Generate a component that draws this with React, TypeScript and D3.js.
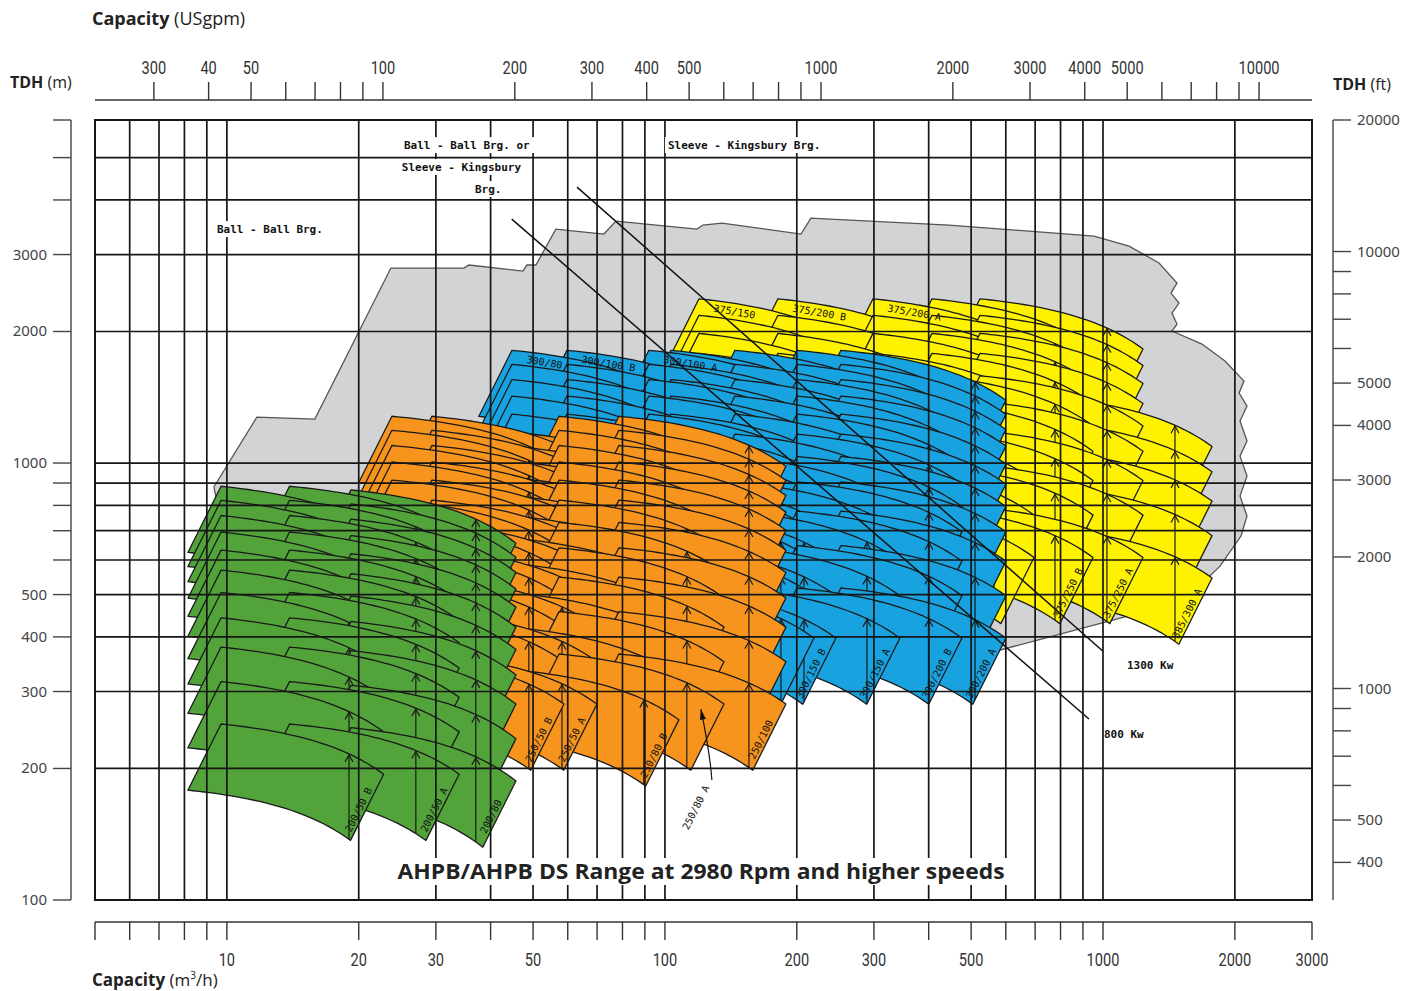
import React, { useEffect, useRef } from 'react';
import * as d3 from 'd3';

type Pump = { name: string; q1: number; q2: number; bep: number; h1: number; h2: number; stages: number[] };

// bottom axis, capacity in m3/h
const capTicks = [5, 6, 7, 8, 9, 10, 20, 30, 40, 50, 60, 70, 80, 90, 100, 200, 300, 400, 500, 600, 700, 800, 900, 1000, 2000, 3000];
const capLabels = [10, 20, 30, 50, 100, 200, 300, 500, 1000, 2000, 3000];
const capGrid = [6, 7, 8, 9, 10, 20, 30, 40, 50, 60, 70, 80, 90, 100, 200, 300, 400, 500, 600, 700, 800, 900, 1000, 2000];

// top axis, capacity in USgpm
const gpmTicks = [30, 40, 50, 60, 70, 80, 90, 100, 200, 300, 400, 500, 600, 700, 800, 900, 1000, 2000, 3000, 4000, 5000, 6000, 7000, 8000, 9000, 10000];
const gpmLabelValues = [30, 40, 50, 100, 200, 300, 400, 500, 1000, 2000, 3000, 4000, 5000, 10000];
const gpmLabelTexts = ['300', '40', '50', '100', '200', '300', '400', '500', '1000', '2000', '3000', '4000', '5000', '10000'];

// left axis, TDH in m
const headTicks = [6096, 5000, 4000, 3000, 2000, 1000, 900, 800, 700, 600, 500, 400, 300, 200, 100];
const headLabels = [3000, 2000, 1000, 500, 400, 300, 200, 100];
const headGrid = [5000, 4000, 3000, 2000, 1000, 900, 800, 700, 600, 500, 400, 300, 200];

// right axis, TDH in ft
const feetTicks = [20000, 10000, 9000, 8000, 7000, 6000, 5000, 4000, 3000, 2000, 1000, 900, 800, 700, 600, 500, 400];
const feetLabels = [20000, 10000, 5000, 4000, 3000, 2000, 1000, 500, 400];

// overall range envelope (grey)
const envQ = [9.34, 11.71, 15.88, 23.68, 34.76, 35.68, 47.4, 48.41, 50.76, 56.37, 72.56, 77.3, 118.3, 122.1, 134.9, 204.4, 215.4, 445.1, 953.9, 1146.7, 1342.6, 1475.4, 1429.6, 1491.2, 1437.2, 1475.4, 1437.2, 1682.6, 1898.9, 2098.4, 2045, 2132, 2055, 2132, 2055, 2132, 2055, 2132, 2065.6, 1849.8, 1530.6, 469, 119.6, 27.44, 10.1];
const envH = [881.5, 1274, 1261, 2794, 2794, 2839, 2750, 2839, 2839, 3431, 3342, 3579, 3431, 3504, 3541, 3342, 3636, 3504, 3306, 3137, 2869, 2582, 2449, 2323, 2204, 2080, 2005, 1872, 1712, 1540, 1446, 1350, 1248, 1123, 1037, 934, 840.4, 756.3, 680.7, 580.9, 483.2, 352.3, 352.3, 391.5, 596.9];

const S14 = [4, 5, 6, 7, 8, 9, 10, 11, 12, 13, 14];
const S12 = [4, 5, 6, 7, 8, 9, 10, 11, 12];
const S8 = [4, 5, 6, 7, 8];
const TRIM = 0.84; // min / max impeller

// q1,q2 = capacity at the corners of the max impeller curve, h1,h2 = head per stage there
const yellowPumps: Pump[] = [
  { name: '375/150', q1: 119.6, q2: 277.3, bep: 231.9, h1: 198, h2: 152, stages: S12 },
  { name: '375/200 B', q1: 181.1, q2: 422.3, bep: 351.3, h1: 198, h2: 152, stages: S12 },
  { name: '375/200 A', q1: 298.5, q2: 695.9, bep: 563.8, h1: 198, h2: 152, stages: S12 },
  { name: '375/250 B', q1: 407.0, q2: 948.9, bep: 777.0, h1: 198, h2: 152, stages: S12 },
  { name: '375/250 A', q1: 523.8, q2: 1234, bep: 1021, h1: 198, h2: 152, stages: S12 },
  { name: '385/300 A', q1: 745.0, q2: 1774, bep: 1460, h1: 177.5, h2: 136.4, stages: S8 },
];
const bluePumps: Pump[] = [
  { name: '300/80', q1: 44.74, q2: 106.5, bep: 88.2, h1: 129.4, h2: 99.4, stages: S14 },
  { name: '300/100 B', q1: 59.75, q2: 142.2, bep: 117.7, h1: 129.4, h2: 99.4, stages: S14 },
  { name: '300/100 A', q1: 91.9, q2: 218.9, bep: 184, h1: 129.4, h2: 99.4, stages: S14 },
  { name: '300/150 B', q1: 103.2, q2: 245.7, bep: 207.7, h1: 129.4, h2: 99.4, stages: S14 },
  { name: '300/150 A', q1: 144.5, q2: 343.9, bep: 289.2, h1: 129.4, h2: 99.4, stages: S14 },
  { name: '300/200 B', q1: 200.2, q2: 476.5, bep: 400.6, h1: 129.4, h2: 99.4, stages: S14 },
  { name: '300/200 A', q1: 252.2, q2: 600.4, bep: 510.4, h1: 129.4, h2: 99.4, stages: S14 },
];
const orangePumps: Pump[] = [
  { name: '250/50 B', q1: 23.81, q2: 58.81, bep: 48.9, h1: 91.4, h2: 70.2, stages: S14 },
  { name: '250/50 A', q1: 29.38, q2: 69.94, bep: 58.2, h1: 91.4, h2: 70.2, stages: S14 },
  { name: '250/80 B', q1: 45.2, q2: 107.6, bep: 89.5, h1: 84.1, h2: 64.6, stages: S14 },
  { name: '250/80 A', q1: 57.3, q2: 136.4, bep: 112.2, h1: 91.4, h2: 70.2, stages: S14 },
  { name: '250/100', q1: 78.5, q2: 188.9, bep: 155.5, h1: 91.4, h2: 70.2, stages: S14 },
];
const greenPumps: Pump[] = [
  { name: '200/50 B', q1: 9.7, q2: 22.8, bep: 19.0, h1: 63.2, h2: 48.5, stages: S14 },
  { name: '200/50 A', q1: 13.9, q2: 33.9, bep: 27.0, h1: 63.2, h2: 48.5, stages: S14 },
  { name: '200/80', q1: 19.2, q2: 45.7, bep: 37.0, h1: 62, h2: 46.8, stages: S14 },
];

const topLabelled = ['300/80', '300/100 B', '300/100 A', '375/150', '375/200 B', '375/200 A'];

// label placed outside its tile with a leader
const leaderName = '250/80 A';
const leaderText = [119.6, 161.5];
const leaderFrom = [128, 188.2];
const leaderTip = [120.8, 273.5];

// motor power lines
const kwLabels = ['1300 Kw', '800 Kw'];
const kwStart = [[63.0, 4281], [44.7, 3617]];
const kwEnd = [[1000, 371], [929, 259.5]];
const kwLabelAt = [[1134, 337.9], [1005, 234.8]];

// bearing notes
const noteTexts = ['Ball - Ball Brg.', 'Ball - Ball Brg. or', 'Sleeve - Kingsbury', 'Brg.', 'Sleeve - Kingsbury Brg.'];
const noteQ = [9.49, 25.36, 25.08, 36.83, 101.6];
const noteH = [3360, 5229, 4659, 4148, 5229];

const GPM_PER_M3H = 4.4029;
const PLOT_FONT = '"DejaVu Sans Mono", monospace';
const TICK_FONT = 'Roboto, sans-serif';
const AXIS_FONT = '"Noto Sans", sans-serif';

const App: React.FC = () => {
  const chartRef = useRef<SVGSVGElement | null>(null);

  useEffect(() => {
    const svg = d3.select(chartRef.current);
    svg.selectAll('*').remove();

    const x = d3.scaleLog().domain([5, 3000]).range([95, 1312]);
    const y = d3.scaleLog().domain([100, 6096]).range([900, 120]);
    const line = d3.line<[number, number]>();

    svg.append('rect').attr('width', 1421).attr('height', 991).attr('fill', '#fff');

    // grey envelope
    const env = envQ.map((q, i) => [x(q), y(envH[i])] as [number, number]);
    svg.append('path').attr('d', line(env) + 'Z')
      .attr('fill', '#d2d3d5').attr('stroke', '#555').attr('stroke-width', 1.3);

    const curve = (p: Pump, n: number) => {
      const H1 = n * p.h1, H2 = n * p.h2;
      const B = (H1 - H2) / (p.q2 * p.q2 - p.q1 * p.q1);
      const A = H1 + B * p.q1 * p.q1;
      return { A, B, H1, H2 };
    };

    const outline = (p: Pump, n: number) => {
      const { A, B, H2 } = curve(p, n);
      const pts: [number, number][] = [];
      const N = 30;
      for (let i = 0; i <= N; i++) {
        const q = p.q1 * Math.pow(p.q2 / p.q1, i / N);
        pts.push([x(q), y(A - B * q * q)]);
      }
      pts.push([x(TRIM * p.q2), y(TRIM * TRIM * H2)]);
      for (let i = 1; i <= N; i++) {
        const q = TRIM * p.q2 * Math.pow(p.q1 / p.q2, i / N);
        pts.push([x(q), y(TRIM * TRIM * A - B * q * q)]);
      }
      return pts;
    };

    const drawFamily = (pumps: Pump[], color: string) => {
      const g = svg.append('g');
      const levels = Array.from(new Set(pumps.flatMap(p => p.stages))).sort((a, b) => b - a);
      levels.forEach(n => {
        [...pumps].reverse().forEach(p => {
          if (!p.stages.includes(n)) return;
          g.append('path').attr('d', line(outline(p, n)) + 'Z')
            .attr('fill', color).attr('stroke', '#1a1a1a').attr('stroke-width', 1.3)
            .attr('stroke-linejoin', 'round');
          const { A, B, H2 } = curve(p, n);
          const bx = x(p.bep);
          const ty = y(A - B * p.bep * p.bep);
          const bottomH = p.bep <= TRIM * p.q2
            ? TRIM * TRIM * A - B * p.bep * p.bep
            : Math.pow(p.bep / p.q2, 2) * H2;
          const by = y(bottomH);
          g.append('line').attr('x1', bx).attr('x2', bx).attr('y1', by).attr('y2', ty)
            .attr('stroke', '#1a1a1a').attr('stroke-width', 1.2);
          g.append('path').attr('d', `M${bx - 4},${ty + 8}L${bx},${ty + 1}L${bx + 4},${ty + 8}`)
            .attr('fill', 'none').attr('stroke', '#1a1a1a').attr('stroke-width', 1.2);
        });
      });

      // model labels
      pumps.forEach(p => {
        if (topLabelled.includes(p.name)) {
          const n = p.stages[p.stages.length - 1];
          const { A, B } = curve(p, n);
          const qa = p.q1 * Math.pow(10, 16 / 438);
          const qb = p.q1 * Math.pow(10, 70 / 438);
          const ax = x(qa), ay = y(A - B * qa * qa);
          const bx2 = x(qb), by2 = y(A - B * qb * qb);
          const ang = Math.atan2(by2 - ay, bx2 - ax);
          const px = ax - Math.sin(ang) * 11, py = ay + Math.cos(ang) * 11;
          g.append('text').attr('x', px).attr('y', py)
            .attr('transform', `rotate(${(ang * 180) / Math.PI},${px},${py})`)
            .attr('font-family', PLOT_FONT).attr('font-size', 10).attr('fill', '#111')
            .text(p.name);
        } else if (p.name !== leaderName) {
          const n = p.stages[0];
          const trx = x(p.q2), tr_y = y(n * p.h2);
          const brx = x(TRIM * p.q2), bry = y(TRIM * TRIM * n * p.h2);
          const ang = Math.atan2(tr_y - bry, trx - brx);
          const mx = brx + (trx - brx) * 0.42, my = bry + (tr_y - bry) * 0.42;
          const px = mx + Math.sin(ang) * 3, py = my - Math.cos(ang) * 3;
          g.append('text').attr('x', px).attr('y', py)
            .attr('transform', `rotate(${(ang * 180) / Math.PI},${px},${py})`)
            .attr('text-anchor', 'middle')
            .attr('font-family', PLOT_FONT).attr('font-size', 10).attr('fill', '#111')
            .text(p.name);
        }
      });
    };

    drawFamily(yellowPumps, '#fff200');
    drawFamily(bluePumps, '#18a3e0');
    drawFamily(orangePumps, '#f7941d');
    drawFamily(greenPumps, '#52a33a');

    // leader label
    const lp = orangePumps.find(p => p.name === leaderName)!;
    const lAng = Math.atan2(
      y(4 * lp.h2) - y(TRIM * TRIM * 4 * lp.h2),
      x(lp.q2) - x(TRIM * lp.q2)
    );
    const tx = x(leaderText[0]), ty2 = y(leaderText[1]);
    svg.append('text').attr('x', tx).attr('y', ty2)
      .attr('transform', `rotate(${(lAng * 180) / Math.PI},${tx},${ty2})`)
      .attr('text-anchor', 'middle').attr('font-family', PLOT_FONT).attr('font-size', 10)
      .attr('fill', '#111').text(leaderName);
    const fx = x(leaderFrom[0]), fy = y(leaderFrom[1]);
    const tipx = x(leaderTip[0]), tipy = y(leaderTip[1]);
    svg.append('path')
      .attr('d', `M${fx},${fy}Q${fx - 2},${(fy + tipy) / 2 + 8} ${tipx},${tipy}`)
      .attr('fill', 'none').attr('stroke', '#111').attr('stroke-width', 1.2);
    svg.append('path')
      .attr('d', `M${tipx},${tipy}l-1,11l6,-1z`)
      .attr('fill', '#111');

    // grid
    const grid = svg.append('g').attr('stroke', '#161616').attr('stroke-width', 1.7);
    capGrid.forEach(q => {
      grid.append('line').attr('x1', x(q)).attr('x2', x(q)).attr('y1', 120).attr('y2', 900);
    });
    headGrid.forEach(h => {
      grid.append('line').attr('x1', 95).attr('x2', 1312).attr('y1', y(h)).attr('y2', y(h));
    });

    // power lines
    kwLabels.forEach((lab, i) => {
      svg.append('line')
        .attr('x1', x(kwStart[i][0])).attr('y1', y(kwStart[i][1]))
        .attr('x2', x(kwEnd[i][0])).attr('y2', y(kwEnd[i][1]))
        .attr('stroke', '#111').attr('stroke-width', 1.5);
      svg.append('text').attr('x', x(kwLabelAt[i][0])).attr('y', y(kwLabelAt[i][1]))
        .attr('font-family', PLOT_FONT).attr('font-size', 11).attr('font-weight', 'bold')
        .attr('fill', '#111').text(lab);
    });

    // bearing notes
    noteTexts.forEach((t, i) => {
      const nx = x(noteQ[i]), ny = y(noteH[i]);
      const w = t.length * 6.7;
      svg.append('rect').attr('x', nx - 3).attr('y', ny - 12).attr('width', w + 6).attr('height', 16)
        .attr('fill', '#fff');
      svg.append('text').attr('x', nx).attr('y', ny)
        .attr('font-family', PLOT_FONT).attr('font-size', 11).attr('font-weight', 'bold')
        .attr('fill', '#111').text(t);
    });

    // frame
    svg.append('rect').attr('x', 95).attr('y', 120).attr('width', 1217).attr('height', 780)
      .attr('fill', 'none').attr('stroke', '#161616').attr('stroke-width', 2);

    const tickText = (sx: number, sy: number, t: string) => {
      svg.append('text').attr('x', sx).attr('y', sy).attr('text-anchor', 'middle')
        .attr('font-family', TICK_FONT).attr('font-size', 18).attr('fill', '#333')
        .attr('textLength', t.length * 8.2).attr('lengthAdjust', 'spacingAndGlyphs')
        .text(t);
    };

    // top axis (USgpm)
    const top = svg.append('g').attr('stroke', '#333').attr('stroke-width', 1.4);
    top.append('line').attr('x1', 95).attr('x2', 1312).attr('y1', 100).attr('y2', 100);
    gpmTicks.forEach(g => {
      const gx = x(g / GPM_PER_M3H);
      top.append('line').attr('x1', gx).attr('x2', gx).attr('y1', 82).attr('y2', 100);
    });
    gpmLabelValues.forEach((g, i) => tickText(x(g / GPM_PER_M3H), 74, gpmLabelTexts[i]));

    // bottom axis (m3/h)
    const bot = svg.append('g').attr('stroke', '#333').attr('stroke-width', 1.4);
    bot.append('line').attr('x1', 95).attr('x2', 1312).attr('y1', 922).attr('y2', 922);
    capTicks.forEach(q => {
      bot.append('line').attr('x1', x(q)).attr('x2', x(q)).attr('y1', 922).attr('y2', 940);
    });
    capLabels.forEach(q => tickText(x(q), 966, String(q)));

    // left axis (m)
    const left = svg.append('g').attr('stroke', '#444').attr('stroke-width', 1.4);
    left.append('line').attr('x1', 71).attr('x2', 71).attr('y1', 120).attr('y2', 900);
    headTicks.forEach(h => {
      left.append('line').attr('x1', 53).attr('x2', 71).attr('y1', y(h)).attr('y2', y(h));
    });
    headLabels.forEach(h => {
      svg.append('text').attr('x', 47).attr('y', y(h) + 5).attr('text-anchor', 'end')
        .attr('font-family', AXIS_FONT).attr('font-size', 15).attr('fill', '#444').text(String(h));
    });

    // right axis (ft)
    const yf = (f: number) => y(f * 0.3048);
    const right = svg.append('g').attr('stroke', '#444').attr('stroke-width', 1.4);
    right.append('line').attr('x1', 1333).attr('x2', 1333).attr('y1', yf(20000)).attr('y2', 900);
    feetTicks.forEach(f => {
      right.append('line').attr('x1', 1333).attr('x2', 1351).attr('y1', yf(f)).attr('y2', yf(f));
    });
    feetLabels.forEach(f => {
      svg.append('text').attr('x', 1357).attr('y', yf(f) + 5)
        .attr('font-family', AXIS_FONT).attr('font-size', 15).attr('fill', '#444').text(String(f));
    });

    // axis titles
    const title = (tx3: number, ty3: number, bold: string, rest: string, size: number) => {
      const t = svg.append('text').attr('x', tx3).attr('y', ty3)
        .attr('font-family', '"Open Sans", sans-serif').attr('font-size', size).attr('fill', '#222');
      t.append('tspan').attr('font-weight', 'bold').text(bold);
      t.append('tspan').text(rest);
      return t;
    };
    title(92, 25, 'Capacity', ' (USgpm)', 18);
    title(10, 88, 'TDH', ' (m)', 16);
    title(1333, 90, 'TDH', ' (ft)', 16);
    const capT = title(92, 986, 'Capacity', ' (m', 17);
    capT.append('tspan').attr('font-size', 10).attr('dy', -7).text('3');
    capT.append('tspan').attr('dy', 7).text('/h)');

    // chart title on a white band
    svg.append('rect').attr('x', 394).attr('y', 858).attr('width', 615).attr('height', 27).attr('fill', '#fff');
    svg.append('text').attr('x', 701).attr('y', 879).attr('text-anchor', 'middle')
      .attr('font-family', '"Open Sans", sans-serif').attr('font-weight', 'bold').attr('font-size', 21)
      .attr('fill', '#222').attr('textLength', 607).attr('lengthAdjust', 'spacingAndGlyphs')
      .text('AHPB/AHPB DS Range at 2980 Rpm and higher speeds');
  }, []);

  return (
    <svg ref={chartRef} width={1421} height={991} style={{ position: 'absolute', left: 0, top: 0 }}></svg>
  );
};

export default App;
